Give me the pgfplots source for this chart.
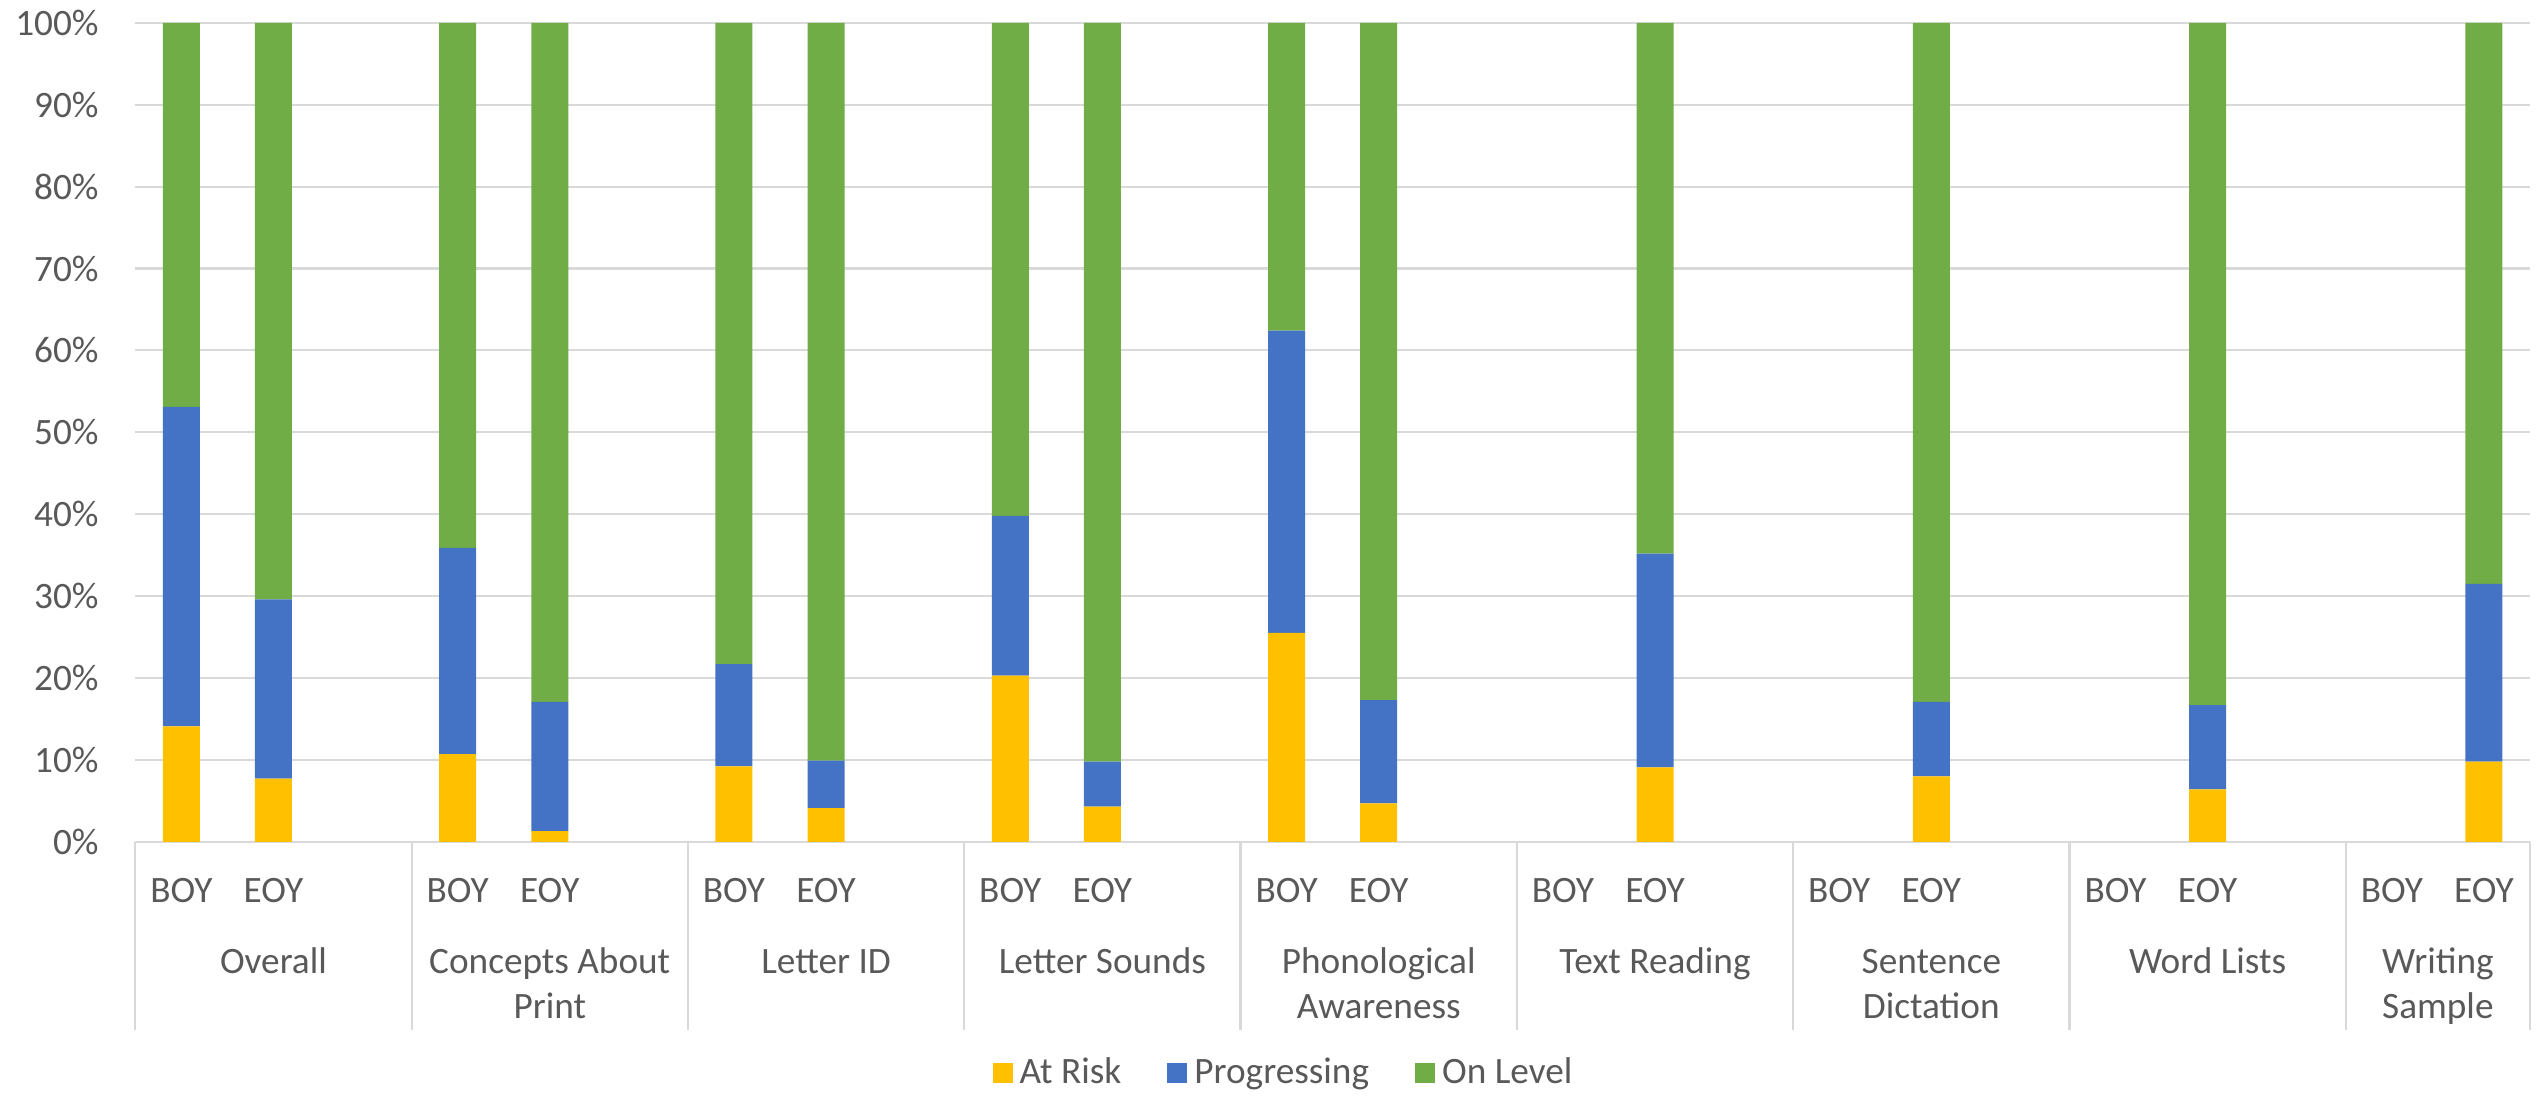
\documentclass[border=0pt]{standalone}
\usepackage{pgfplots}
\pgfplotsset{compat=1.18}
\usepackage{fontspec}
\setmainfont{Carlito}
\definecolor{atrisk}{HTML}{FFC000}
\definecolor{prog}{HTML}{4472C4}
\definecolor{onlevel}{HTML}{70AD47}
\definecolor{textgray}{HTML}{595959}
\definecolor{gridgray}{HTML}{D9D9D9}
\newcommand{\lab}{\fontsize{10.6pt}{12.5pt}\selectfont}
\tikzset{glab/.style={font=\lab, text=textgray, inner sep=0pt, anchor=base}}
\begin{document}
\begin{tikzpicture}
\begin{axis}[
  at={(1.353cm,2.542cm)}, anchor=south west,
  scale only axis,
  width=23.947cm, height=8.19cm,
  xmin=-0.5, xmax=25.5, ymin=0, ymax=100,
  enlargelimits=false,
  clip=false,
  ybar stacked, bar width=0.37cm,
  axis line style={draw=none},
  ymajorgrids, grid style={draw=gridgray, line width=0.6pt},
  ytick={0,10,...,100},
  yticklabels={0\%,10\%,20\%,30\%,40\%,50\%,60\%,70\%,80\%,90\%,100\%},
  yticklabel style={font=\lab, text=textgray, inner sep=0pt, anchor=east, xshift=-0.36cm},
  xtick={0,1,3,4,6,7,9,10,12,13,15,16,18,19,21,22,24,25},
  xticklabels={BOY,EOY,BOY,EOY,BOY,EOY,BOY,EOY,BOY,EOY,BOY,EOY,BOY,EOY,BOY,EOY,BOY,EOY},
  xticklabel style={font=\lab, text=textgray, inner sep=0pt, anchor=base, yshift=-0.61cm},
  major tick length=0pt,
  tick pos=left,
  extra x ticks={-0.5,2.5,5.5,8.5,11.5,14.5,17.5,20.5,23.5,25.5},
  extra x tick labels={},
  extra x tick style={major tick length=1.88cm, tick align=outside, tick style={draw=gridgray, line width=0.6pt}},
  legend columns=3,
  legend style={at={(0.4805,-0.2823)}, anchor=center, draw=none, fill=none, font=\lab, text=textgray,
    inner sep=0pt, /tikz/every even column/.append style={column sep=0.39cm}},
  legend image code/.code={\draw[#1,draw=none] (0cm,-0.1cm) rectangle (0.2cm,0.1cm);},
]
\addplot[fill=atrisk, draw=none] coordinates {
 (0,14.1) (1,7.7) (3,10.7) (4,1.3) (6,9.2) (7,4.1) (9,20.3) (10,4.3) (12,25.5) (13,4.7)
 (16,9.1) (19,8.0) (22,6.4) (25,9.8)};
\addplot[fill=prog, draw=none] coordinates {
 (0,39.0) (1,21.9) (3,25.2) (4,15.8) (6,12.5) (7,5.8) (9,19.5) (10,5.5) (12,36.9) (13,12.6)
 (16,26.1) (19,9.1) (22,10.3) (25,21.7)};
\addplot[fill=onlevel, draw=none] coordinates {
 (0,46.9) (1,70.4) (3,64.1) (4,82.9) (6,78.3) (7,90.1) (9,60.2) (10,90.2) (12,37.6) (13,82.7)
 (16,64.8) (19,82.9) (22,83.3) (25,68.5)};
\legend{At Risk, Progressing, On Level}
\node[glab, yshift=-1.32cm] at (axis cs:1,0) {Overall};
\node[glab, yshift=-1.32cm] at (axis cs:4,0) {Concepts About};
\node[glab, yshift=-1.77cm] at (axis cs:4,0) {Print};
\node[glab, yshift=-1.32cm] at (axis cs:7,0) {Letter ID};
\node[glab, yshift=-1.32cm] at (axis cs:10,0) {Letter Sounds};
\node[glab, yshift=-1.32cm] at (axis cs:13,0) {Phonological};
\node[glab, yshift=-1.77cm] at (axis cs:13,0) {Awareness};
\node[glab, yshift=-1.32cm] at (axis cs:16,0) {Text Reading};
\node[glab, yshift=-1.32cm] at (axis cs:19,0) {Sentence};
\node[glab, yshift=-1.77cm] at (axis cs:19,0) {Dictation};
\node[glab, yshift=-1.32cm] at (axis cs:22,0) {Word Lists};
\node[glab, yshift=-1.32cm] at (axis cs:24.5,0) {Writing};
\node[glab, yshift=-1.77cm] at (axis cs:24.5,0) {Sample};
\end{axis}
\pgfresetboundingbox
\path (0,0) rectangle (25.39cm,10.96cm);
\end{tikzpicture}
\end{document}
